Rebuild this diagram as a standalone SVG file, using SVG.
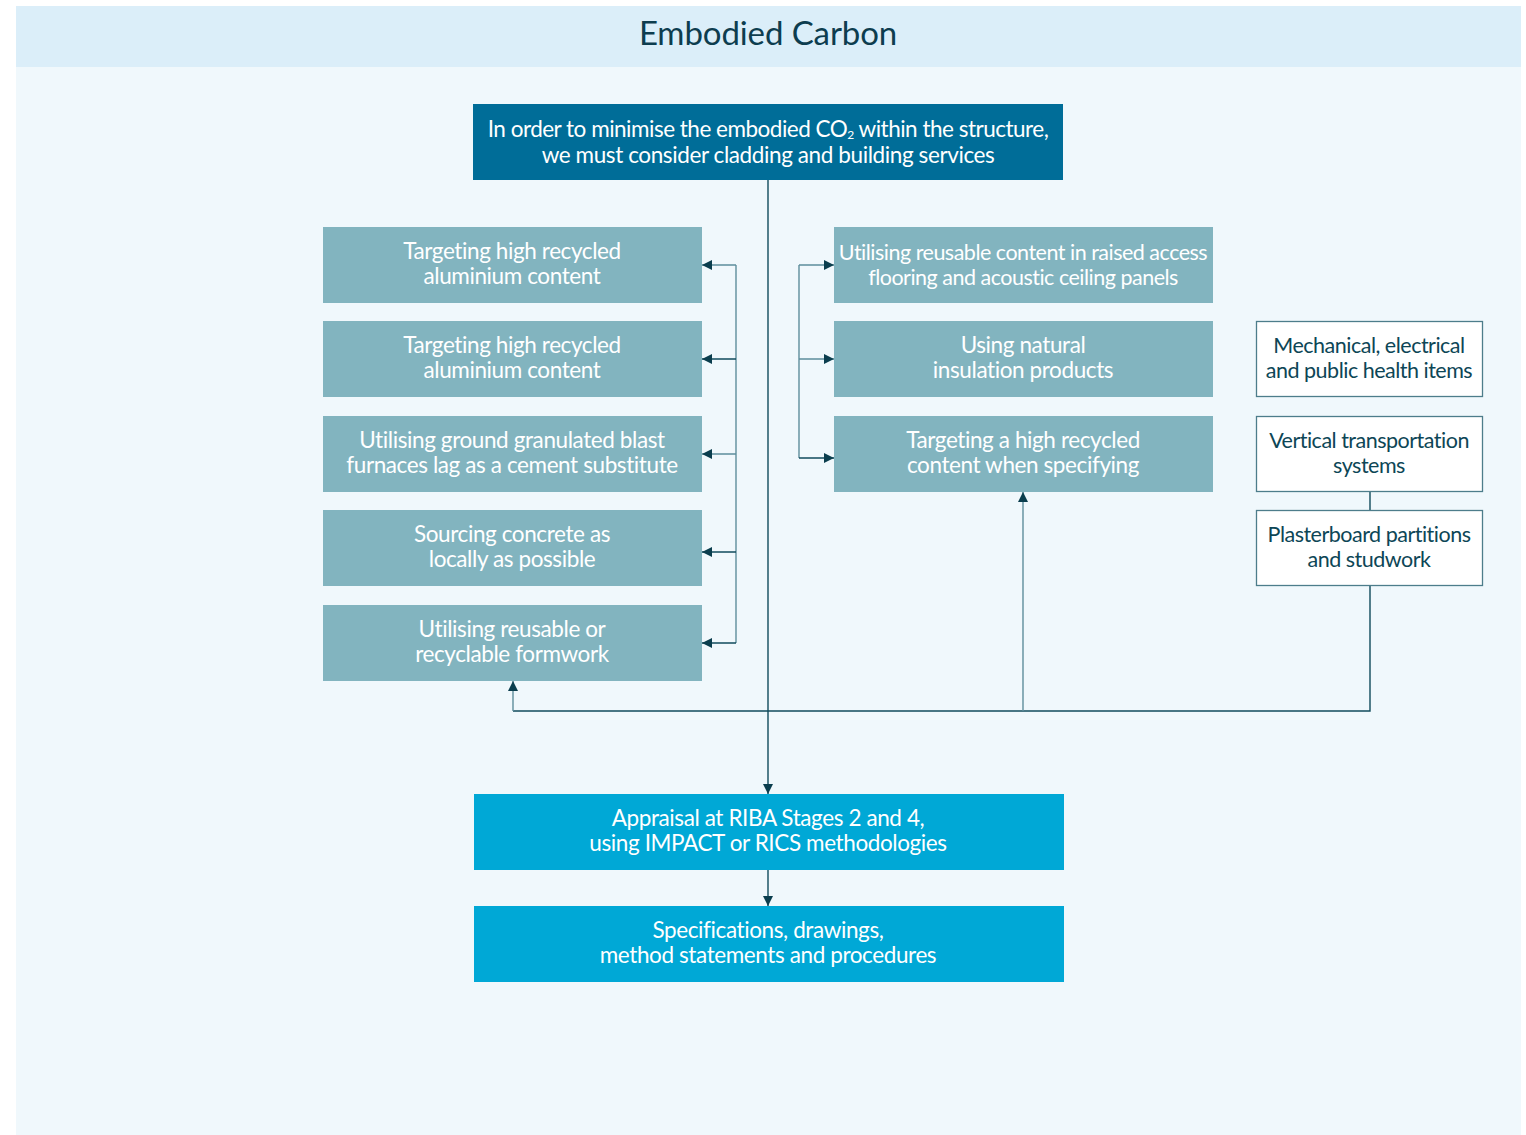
<svg xmlns="http://www.w3.org/2000/svg" width="1526" height="1135" viewBox="0 0 1526 1135">
<defs>
<style>
.t{font-family:Lato,"Open Sans","Liberation Sans",sans-serif;font-size:22.5px;text-anchor:middle;letter-spacing:-0.4px}
.n{font-size:21.5px;letter-spacing:-0.5px}
.w{fill:#ffffff}
.d{fill:#0d4656}
.g{fill:#82b4bf}
.c{stroke:#104b5c;stroke-width:1.4;fill:none}
.cl{stroke:#5d8e9c;stroke-width:1.4;fill:none}
.wb{fill:#ffffff;stroke:#4d7d8b;stroke-width:1.3}
</style>
<marker id="ah" viewBox="0 0 10 10" refX="10" refY="5" markerWidth="10" markerHeight="10" markerUnits="userSpaceOnUse" orient="auto">
<path d="M0,0 L10,5 L0,10 z" fill="#0b3e4e"/>
</marker>
</defs>
<rect x="0" y="0" width="1526" height="1135" fill="#ffffff"/>
<rect x="16" y="6" width="1505" height="1129" fill="#f0f8fc"/>
<rect x="16" y="6" width="1505" height="61" fill="#dbeef9"/>
<text x="768" y="45" style="font-family:Lato,'Open Sans','Liberation Sans',sans-serif;font-size:33px;text-anchor:middle;letter-spacing:-0.1px" fill="#0d3d4f">Embodied Carbon</text>

<g id="connectors">
<line class="c" x1="768" y1="180" x2="768" y2="794" marker-end="url(#ah)"/>
<line class="c" x1="768" y1="870" x2="768" y2="906" marker-end="url(#ah)"/>
<line class="cl" x1="736" y1="265" x2="736" y2="643"/>
<line class="cl" x1="736" y1="265" x2="702" y2="265" marker-end="url(#ah)"/>
<line class="c" x1="736" y1="359" x2="702" y2="359" marker-end="url(#ah)"/>
<line class="cl" x1="736" y1="454" x2="702" y2="454" marker-end="url(#ah)"/>
<line class="c" x1="736" y1="552" x2="702" y2="552" marker-end="url(#ah)"/>
<line class="c" x1="736" y1="643" x2="702" y2="643" marker-end="url(#ah)"/>
<line class="cl" x1="799" y1="265" x2="799" y2="458"/>
<line class="cl" x1="799" y1="265" x2="834" y2="265" marker-end="url(#ah)"/>
<line class="cl" x1="799" y1="359" x2="834" y2="359" marker-end="url(#ah)"/>
<line class="c" x1="799" y1="458" x2="834" y2="458" marker-end="url(#ah)"/>
<polyline class="c" points="1370,586 1370,711 513,711"/>
<line class="cl" x1="513" y1="711" x2="513" y2="681" marker-end="url(#ah)"/>
<line class="cl" x1="1023" y1="711" x2="1023" y2="492" marker-end="url(#ah)"/>
<line class="c" x1="1370" y1="492" x2="1370" y2="510"/>
</g>

<g id="top">
<rect x="473" y="104" width="590" height="76" fill="#006d98"/>
<text class="t w" x="768" y="137" style="letter-spacing:-0.5px">In order to minimise the embodied CO<tspan font-size="12" dy="2">2</tspan><tspan dy="-2"> within the structure,</tspan></text>
<text class="t w" x="768" y="163">we must consider cladding and building services</text>
</g>

<g id="l1"><rect class="g" x="323" y="227" width="379" height="76"/>
<text class="t w" x="512" y="259">Targeting high recycled</text><text class="t w" x="512" y="284">aluminium content</text></g>
<g id="l2"><rect class="g" x="323" y="321" width="379" height="76"/>
<text class="t w" x="512" y="353">Targeting high recycled</text><text class="t w" x="512" y="378">aluminium content</text></g>
<g id="l3"><rect class="g" x="323" y="416" width="379" height="76"/>
<text class="t w" x="512" y="448">Utilising ground granulated blast</text><text class="t w" x="512" y="473">furnaces lag as a cement substitute</text></g>
<g id="l4"><rect class="g" x="323" y="510" width="379" height="76"/>
<text class="t w" x="512" y="542">Sourcing concrete as</text><text class="t w" x="512" y="567">locally as possible</text></g>
<g id="l5"><rect class="g" x="323" y="605" width="379" height="76"/>
<text class="t w" x="512" y="637">Utilising reusable or</text><text class="t w" x="512" y="662">recyclable formwork</text></g>

<g id="r1"><rect class="g" x="834" y="227" width="379" height="76"/>
<text class="t n w" x="1023" y="260">Utilising reusable content in raised access</text><text class="t n w" x="1023" y="285">flooring and acoustic ceiling panels</text></g>
<g id="r2"><rect class="g" x="834" y="321" width="379" height="76"/>
<text class="t w" x="1023" y="353">Using natural</text><text class="t w" x="1023" y="378">insulation products</text></g>
<g id="r3"><rect class="g" x="834" y="416" width="379" height="76"/>
<text class="t w" x="1023" y="448">Targeting a high recycled</text><text class="t w" x="1023" y="473">content when specifying</text></g>

<g id="s1"><rect class="wb" x="1256.5" y="321.5" width="226" height="75"/>
<text class="t n d" x="1369" y="353">Mechanical, electrical</text><text class="t n d" x="1369" y="378">and public health items</text></g>
<g id="s2"><rect class="wb" x="1256.5" y="416.5" width="226" height="75"/>
<text class="t n d" x="1369" y="448">Vertical transportation</text><text class="t n d" x="1369" y="473">systems</text></g>
<g id="s3"><rect class="wb" x="1256.5" y="510.5" width="226" height="75"/>
<text class="t n d" x="1369" y="542">Plasterboard partitions</text><text class="t n d" x="1369" y="567">and studwork</text></g>

<g id="b1"><rect x="474" y="794" width="590" height="76" fill="#00a8d6"/>
<text class="t w" x="768" y="826">Appraisal at RIBA Stages 2 and 4,</text><text class="t w" x="768" y="851">using IMPACT or RICS methodologies</text></g>
<g id="b2"><rect x="474" y="906" width="590" height="76" fill="#00a8d6"/>
<text class="t w" x="768" y="938">Specifications, drawings,</text><text class="t w" x="768" y="963">method statements and procedures</text></g>
</svg>
